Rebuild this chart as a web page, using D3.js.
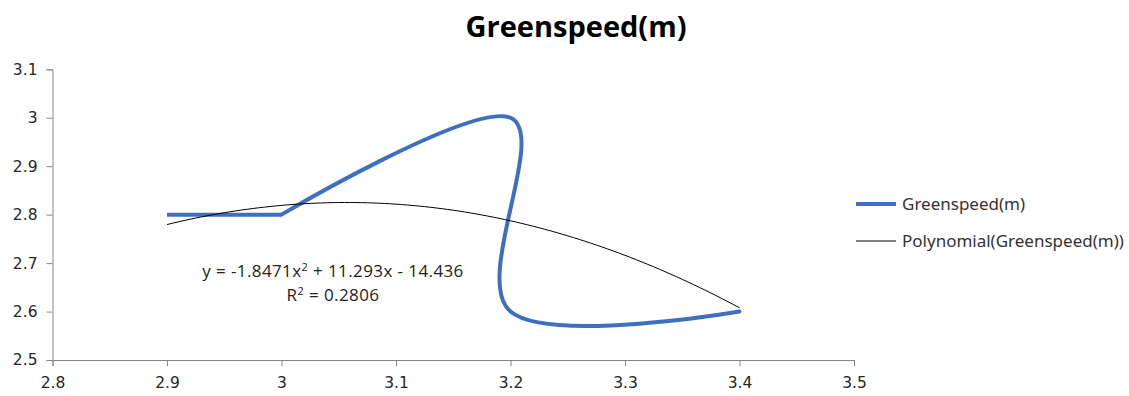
<!DOCTYPE html>
<html>
<head>
<meta charset="utf-8">
<script src="https://cdn.jsdelivr.net/npm/d3@7"></script>
<style>
  body { margin: 0; background: #fff; }
  svg { display: block; }
</style>
</head>
<body>
<div id="chart"></div>
<script>
var width = 1129;
var height = 396;

// data
var xValues = [2.9, 3.0, 3.2, 3.2, 3.4];
var yValues = [2.8, 2.8, 3.0, 2.6, 2.6];
var trendCoef = [-14.436, 11.293, -1.8471];  // c0 + c1*x + c2*x^2
var rSquared = 0.2806;
var xTicks = [2.8, 2.9, 3.0, 3.1, 3.2, 3.3, 3.4, 3.5];
var yTicks = [2.5, 2.6, 2.7, 2.8, 2.9, 3.0, 3.1];
var seriesName = 'Greenspeed(m)';
var trendName = 'Polynomial(Greenspeed(m))';

var points = xValues.map(function (x, i) { return { x: x, y: yValues[i] }; });

var svg = d3.select('#chart')
  .append('svg')
  .attr('width', width)
  .attr('height', height);

var x = d3.scaleLinear().domain([2.8, 3.5]).range([52.5, 854]);
var y = d3.scaleLinear().domain([2.5, 3.1]).range([360, 69.3]);

// title
svg.append('text')
  .attr('x', 576)
  .attr('y', 37)
  .attr('text-anchor', 'middle')
  .style('font-family', '"Open Sans", sans-serif')
  .style('font-weight', 'bold')
  .style('font-size', '29px')
  .style('fill', '#000')
  .text(seriesName);

// axes
var fmt = function (d) { return d3.format('')(+d.toFixed(1)); };

var xAxis = svg.append('g')
  .attr('transform', 'translate(0,' + y(2.5) + ')')
  .call(d3.axisBottom(x).tickValues(xTicks).tickSizeOuter(0).tickSize(6).tickPadding(11).tickFormat(fmt));

var yAxis = svg.append('g')
  .attr('transform', 'translate(' + x(2.8) + ',0)')
  .call(d3.axisLeft(y).tickValues(yTicks).tickSizeOuter(0).tickSize(6).tickPadding(9).tickFormat(fmt));

[xAxis, yAxis].forEach(function (g) {
  g.select('.domain').attr('stroke', '#868686');
  g.selectAll('.tick line').attr('stroke', '#868686');
  g.selectAll('.tick text')
    .style('font-family', '"DejaVu Sans", sans-serif')
    .style('font-size', '15.5px')
    .style('fill', '#262626');
});

// series: straight start, smoothed from x=3.0 on (like Excel draws it)
var line = d3.line()
  .x(function (d) { return x(d.x); })
  .y(function (d) { return y(d.y); });

var blue = '#3F6FC0';

svg.append('path')
  .datum(points.slice(0, 2))
  .attr('d', line.curve(d3.curveLinear))
  .attr('fill', 'none')
  .attr('stroke', blue)
  .attr('stroke-width', 4)
  .attr('stroke-linejoin', 'round');

svg.append('path')
  .datum(points.slice(1))
  .attr('d', line.curve(d3.curveCardinal.tension(0)))
  .attr('fill', 'none')
  .attr('stroke', blue)
  .attr('stroke-width', 4)
  .attr('stroke-linejoin', 'round')
  .attr('stroke-linecap', 'round');

// polynomial trendline
var trendX = d3.range(2.9, 3.4001, 0.005);
var trendPts = trendX.map(function (t) {
  return { x: t, y: trendCoef[0] + trendCoef[1] * t + trendCoef[2] * t * t };
});

svg.append('path')
  .datum(trendPts)
  .attr('d', line.curve(d3.curveLinear))
  .attr('fill', 'none')
  .attr('stroke', '#000')
  .attr('stroke-width', 1);

// equation label
var eq = svg.append('g')
  .style('font-family', '"Open Sans", sans-serif')
  .style('font-size', '17px')
  .style('letter-spacing', '0.4px')
  .style('fill', '#222');

var eq1 = eq.append('text')
  .attr('x', 333)
  .attr('y', 277)
  .attr('text-anchor', 'middle');
eq1.append('tspan').text('y = ' + trendCoef[2] + 'x');
eq1.append('tspan').attr('dy', -6).style('font-size', '11px').text('2');
eq1.append('tspan').attr('dy', 6).text(' + ' + trendCoef[1] + 'x - ' + Math.abs(trendCoef[0]));

var eq2 = eq.append('text')
  .attr('x', 333)
  .attr('y', 301)
  .attr('text-anchor', 'middle');
eq2.append('tspan').text('R');
eq2.append('tspan').attr('dy', -6).style('font-size', '11px').text('2');
eq2.append('tspan').attr('dy', 6).text(' = ' + rSquared);

// legend
var legend = svg.append('g')
  .attr('transform', 'translate(856,0)');

var legendItems = [
  { name: seriesName, color: blue, w: 4, y: 204 },
  { name: trendName, color: '#000', w: 1, y: 241 }
];

legendItems.forEach(function (it) {
  legend.append('line')
    .attr('x1', 0).attr('x2', 40)
    .attr('y1', it.y).attr('y2', it.y)
    .attr('stroke', it.color)
    .attr('stroke-width', it.w);
  legend.append('text')
    .attr('x', 46)
    .attr('y', it.y)
    .attr('dy', '0.35em')
    .style('font-family', '"Noto Sans", sans-serif')
    .style('font-size', '17px')
    .style('fill', '#333')
    .text(it.name);
});
</script>
</body>
</html>
